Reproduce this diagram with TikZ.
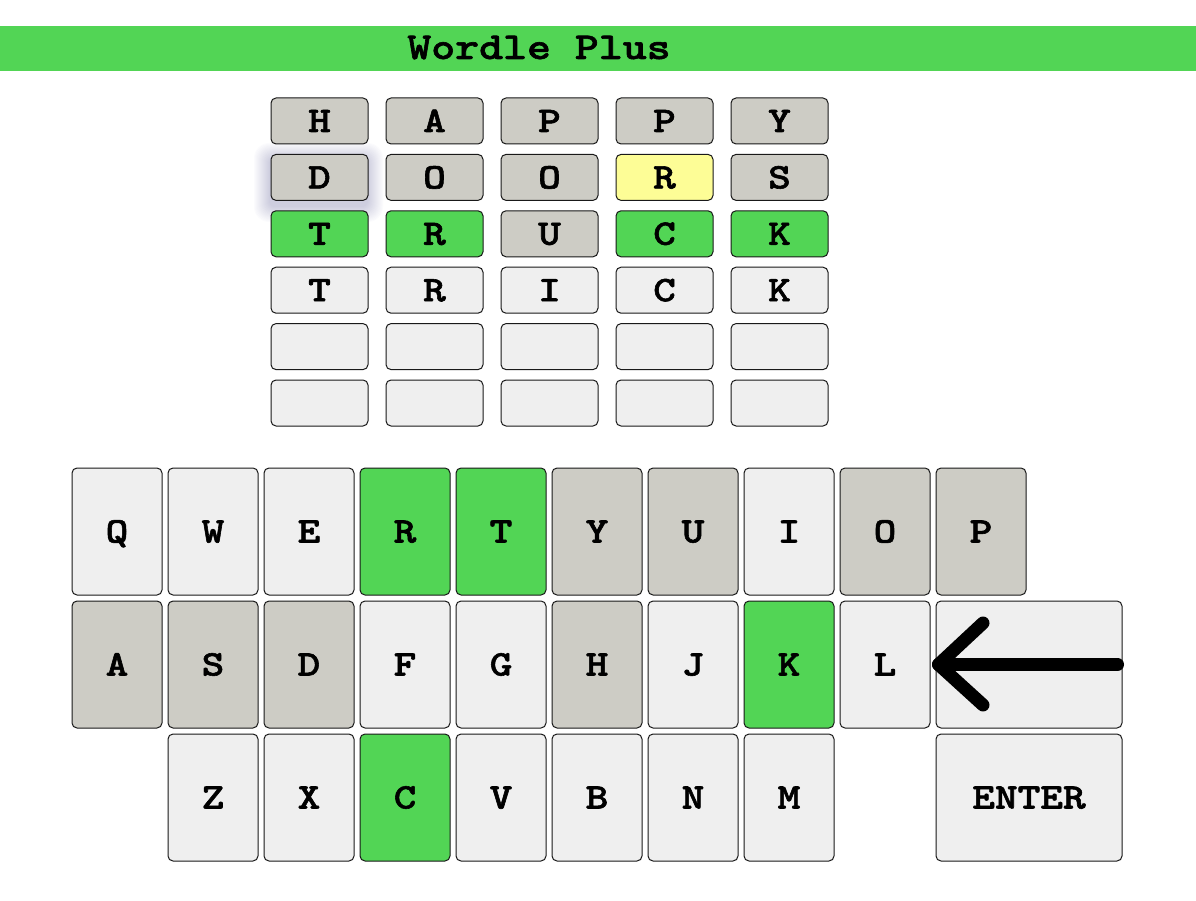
\documentclass[tikz,border=0pt]{standalone}
\usepackage{fontspec}
\newfontfamily\keyfont{lmmonolt10-bold.otf}[FakeStretch=1.2, FakeBold=1.6]
\definecolor{wgreen}{RGB}{82,213,85}
\definecolor{wgray}{RGB}{205,204,197}
\definecolor{wlight}{RGB}{239,239,239}
\definecolor{wyellow}{RGB}{253,253,150}
\definecolor{wshadow}{RGB}{60,60,130}
\tikzset{
  lbl/.style={font=\keyfont\fontsize{36}{36}\selectfont, text height=22pt, text depth=0pt, inner sep=0pt},
  titlelbl/.style={lbl, font=\keyfont\fontsize{38}{38}\selectfont},
  gtile/.style={lbl, draw=black!90, line width=1pt, rounded corners=5pt, minimum width=97pt, minimum height=46pt},
  kkey/.style={lbl, draw=black!90, line width=1pt, rounded corners=5pt, minimum width=90pt, minimum height=127pt},
  wkey/.style={kkey, minimum width=186pt},
  arrowline/.style={line width=13pt, line cap=round, line join=round}
}
\begin{document}
\begin{tikzpicture}[x=1pt, y=-1pt]
\useasboundingbox (0,0) rectangle (1196,901);
\fill[white] (0,0) rectangle (1196,901);
% title bar
\node[fill=wgreen, minimum width=1196pt, minimum height=45pt, inner sep=0pt, anchor=north west] (bar) at (0,26) {};
\node[titlelbl] (title) at (539,48) {Wordle Plus};
% shadow of the D tile
\foreach \k in {2,...,17}
  \fill[wshadow, opacity=0.016, rounded corners={5pt+0.6*\k pt}]
    (271-\k,154+6-\k) rectangle (366+\k,199+6+\k);
% grid
\foreach \row/\rr in {{H/wgray,A/wgray,P/wgray,P/wgray,Y/wgray}/1,
                      {D/wgray,O/wgray,O/wgray,R/wyellow,S/wgray}/2,
                      {T/wgreen,R/wgreen,U/wgray,C/wgreen,K/wgreen}/3,
                      {T/wlight,R/wlight,I/wlight,C/wlight,K/wlight}/4}
  \foreach \l/\c [count=\i] in \row
    \node[gtile, fill=\c] (g\rr\i) at ({319.5+115*(\i-1)}, {121+56.4*(\rr-1)}) {\l};
\foreach \rr in {5,6}
  \foreach \i in {1,...,5}
    \node[gtile, fill=wlight] (g\rr\i) at ({319.5+115*(\i-1)}, {121+56.4*(\rr-1)}) {};
% keyboard row 1
\foreach \l/\c [count=\i] in {Q/wlight,W/wlight,E/wlight,R/wgreen,T/wgreen,Y/wgray,U/wgray,I/wlight,O/wgray,P/wgray}
  \node[kkey, fill=\c] (k\l) at ({117+96*(\i-1)}, 531.5) {\l};
% keyboard row 2
\foreach \l/\c [count=\i] in {A/wgray,S/wgray,D/wgray,F/wlight,G/wlight,H/wgray,J/wlight,K/wgreen,L/wlight}
  \node[kkey, fill=\c] (k\l) at ({117+96*(\i-1)}, 664.5) {\l};
% keyboard row 3
\foreach \l/\c [count=\i] in {Z/wlight,X/wlight,C/wgreen,V/wlight,B/wlight,N/wlight,M/wlight}
  \node[kkey, fill=\c] (k\l) at ({213+96*(\i-1)}, 797.5) {\l};
% wide keys
\node[wkey, fill=wlight] (kback) at (1029,664.5) {};
\node[wkey, fill=wlight] (kenter) at (1029,797.5) {ENTER};
% backspace arrow
\coordinate (atip) at ([xshift=3pt]kback.west);
\coordinate (atop) at (983,623);
\coordinate (abot) at (983,705);
\coordinate (aend) at ([xshift=-5pt]kback.east);
\draw[arrowline] (atop) -- (atip) -- (abot);
\draw[arrowline] (atip) -- (aend);
\end{tikzpicture}
\end{document}
